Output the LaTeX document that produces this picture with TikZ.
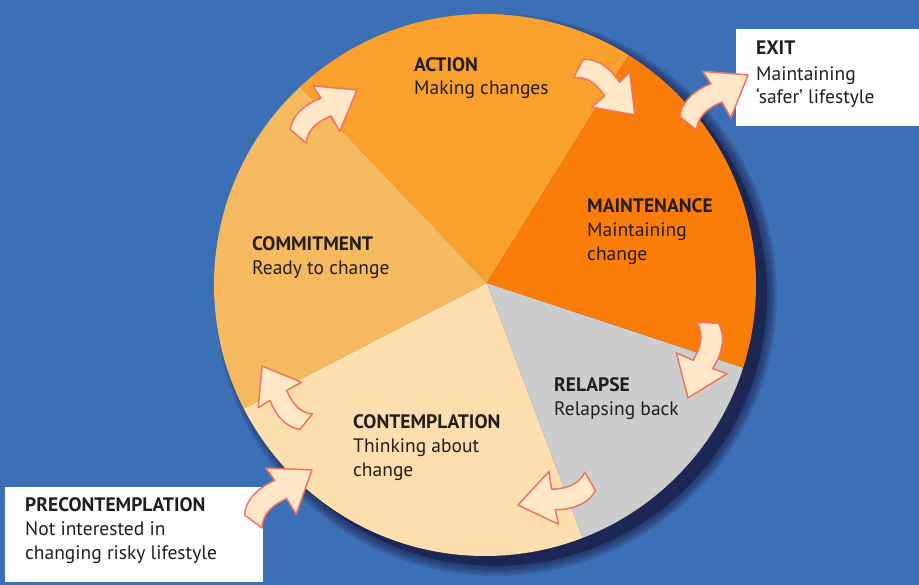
\documentclass[tikz,border=0pt]{standalone}
\usepackage{fontspec}
\setmainfont{PT Sans}
\definecolor{bgblue}{RGB}{60,112,182}
\definecolor{shadowc}{RGB}{28,36,80}
\definecolor{actionc}{RGB}{250,160,45}
\definecolor{maintc}{RGB}{250,125,10}
\definecolor{commitc}{RGB}{245,185,95}
\definecolor{contc}{RGB}{253,222,175}
\definecolor{relapsec}{RGB}{205,205,205}
\definecolor{arrowfill}{RGB}{255,232,200}
\definecolor{arrowline}{RGB}{240,115,100}
\definecolor{textc}{RGB}{35,30,30}
\tikzset{
  headtext/.style={anchor=base west, inner sep=0pt, text=textc, font=\fontsize{19.5}{22}\selectfont\bfseries},
  bodytext/.style={anchor=base west, inner sep=0pt, text=textc, font=\fontsize{19.5}{22}\selectfont},
  arrowstyle/.style={fill=arrowfill, draw=arrowline, line width=1.5pt, line join=round},
  carrow/.pic={
    \filldraw[arrowstyle] (0,-0.14) .. controls (0.15,0.02) and (0.35,-0.02) .. (0.5,-0.06)
      -- (0.46,-0.3) -- (1,0) -- (0.56,0.42) -- (0.54,0.22)
      .. controls (0.35,0.28) and (0.1,0.3) .. (-0.06,0.14) -- cycle;
  }
}
\begin{document}
\begin{tikzpicture}[x=1pt,y=1pt]
\useasboundingbox (0,0) rectangle (919,585);
\fill[bgblue] (0,0) rectangle (919,585);
\coordinate (O) at (485,300);
\coordinate (C) at (487,302);
% shadow
\foreach \r in {281,279,277,275,273}{\fill[shadowc,opacity=0.18] (496,290) circle (\r);}
\fill[shadowc,opacity=0.85] (496,290) circle (271);
% pie
\begin{scope}
  \clip (O) circle (271);
  \fill[actionc] (C) -- (773,762) -- (113,694) -- cycle;
  \fill[commitc] (C) -- (113,694) -- (7,54) -- cycle;
  \fill[contc] (C) -- (7,54) -- (677,-204) -- cycle;
  \fill[relapsec] (C) -- (677,-204) -- (1001,132) -- cycle;
  \fill[maintc] (C) -- (1001,132) -- (773,762) -- cycle;
\end{scope}
% boxes
\node[fill=white, inner sep=0pt, minimum width=183pt, minimum height=97pt, anchor=north west] (exitbox) at (736,556) {};
\node[fill=white, inner sep=0pt, minimum width=258pt, minimum height=95pt, anchor=north west] (prebox) at (5,98) {};
% arrows
\pic (a1) [shift={(300,450)}, rotate=38.3, scale=72.6] {carrow};
\pic (a2) [shift={(580,515)}, rotate=-39.3, scale=71] {carrow};
\pic (a3) [shift={(690,463)}, rotate=39, scale=74.7] {carrow};
\pic (a4) [shift={(707,260)}, rotate=-104.6, scale=75.4] {carrow};
\pic (a5) [shift={(588,103)}, rotate=198.2, scale=73.7] {carrow};
\pic (a6) [shift={(305,165)}, rotate=128.5, scale=69] {carrow};
\pic (a7) [shift={(255,65)}, rotate=41.3, scale=75.8] {carrow};
% texts
\node[headtext] (t1) at (414,513) {ACTION};
\node[bodytext] (t2) at (414,490) {Making changes};
\node[headtext] (t3) at (587,372) {MAINTENANCE};
\node[bodytext] (t4) at (587,348) {Maintaining};
\node[bodytext] (t5) at (587,324) {change};
\node[headtext] (t6) at (252,334) {COMMITMENT};
\node[bodytext] (t7) at (252,310) {Ready to change};
\node[headtext] (t8) at (554,193) {RELAPSE};
\node[bodytext] (t9) at (554,169) {Relapsing back};
\node[headtext] (t10) at (353,156) {CONTEMPLATION};
\node[bodytext] (t11) at (353,132) {Thinking about};
\node[bodytext] (t12) at (353,108) {change};
\node[headtext] (t13) at (756,530) {EXIT};
\node[bodytext] (t14) at (756,504) {Maintaining};
\node[bodytext] (t15) at (756,481) {‘safer’ lifestyle};
\node[headtext] (t16) at (25,73) {PRECONTEMPLATION};
\node[bodytext] (t17) at (25,49) {Not interested in};
\node[bodytext] (t18) at (25,25) {changing risky lifestyle};
\end{tikzpicture}
\end{document}
